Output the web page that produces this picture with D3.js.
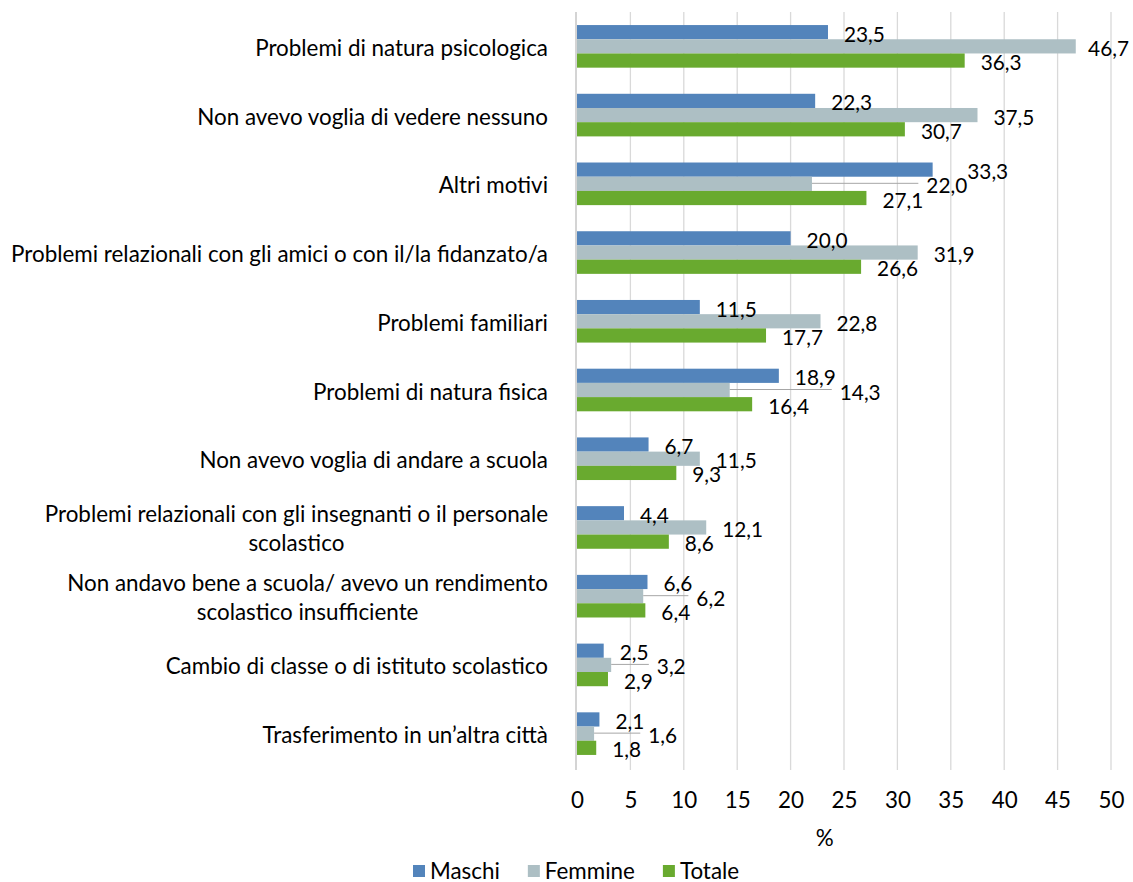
<!DOCTYPE html>
<html>
<head>
<meta charset="utf-8">
<script src="https://cdn.jsdelivr.net/npm/d3@7/dist/d3.min.js"></script>
<style>
  html, body { margin: 0; padding: 0; background: #fff; }
  svg { display: block; font-family: Lato, "Noto Sans", sans-serif; }
</style>
</head>
<body>
<svg id="chart" width="1133" height="882"></svg>
<script>
const categories = [
  "Problemi di natura psicologica",
  "Non avevo voglia di vedere nessuno",
  "Altri motivi",
  "Problemi relazionali con gli amici o con il/la fidanzato/a",
  "Problemi familiari",
  "Problemi di natura fisica",
  "Non avevo voglia di andare a scuola",
  "Problemi relazionali con gli insegnanti o il personale\nscolastico",
  "Non andavo bene a scuola/ avevo un rendimento\nscolastico insufficiente",
  "Cambio di classe o di istituto scolastico",
  "Trasferimento in un’altra città"
];
const maschi  = [23.5, 22.3, 33.3, 20.0, 11.5, 18.9, 6.7, 4.4, 6.6, 2.5, 2.1];
const femmine = [46.7, 37.5, 22.0, 31.9, 22.8, 14.3, 11.5, 12.1, 6.2, 3.2, 1.6];
const totale  = [36.3, 30.7, 27.1, 26.6, 17.7, 16.4, 9.3, 8.6, 6.4, 2.9, 1.8];
const seriesNames = ["Maschi", "Femmine", "Totale"];
const xTicks = [0, 5, 10, 15, 20, 25, 30, 35, 40, 45, 50];
const xTitle = "%";

const colors = { Maschi: "#5384bb", Femmine: "#adbfc4", Totale: "#69aa2f" };
const seriesValues = { Maschi: maschi, Femmine: femmine, Totale: totale };
const FS = 22.4;
const DFS = 20.8;

const svg = d3.select("#chart");
svg.append("rect").attr("width", 1133).attr("height", 882).attr("fill", "#fff");

const x = d3.scaleLinear().domain([0, 50]).range([577, 1111]);
const y = d3.scaleBand().domain(categories).range([12, 768]).paddingInner(0.38).paddingOuter(0.19);
const yInner = d3.scaleBand().domain(seriesNames).range([0, y.bandwidth()]);

const locale = d3.formatLocale({ decimal: ",", thousands: ".", grouping: [3], currency: ["", "€"] });
const fmt = locale.format(".1f");

// gridlines
svg.append("g").selectAll("line").data(xTicks.filter(t => t > 0)).join("line")
  .attr("x1", d => x(d)).attr("x2", d => x(d))
  .attr("y1", 12).attr("y2", 770)
  .attr("stroke", "#d9d9d9").attr("stroke-width", 1.3);

// x axis (tick labels only)
const xAxis = d3.axisBottom(x).tickValues(xTicks).tickSize(0).tickPadding(0).tickFormat(d3.format("d"));
const gx = svg.append("g").attr("transform", "translate(0,790)").call(xAxis);
gx.select(".domain").remove();
gx.selectAll("text").attr("font-size", FS).attr("fill", "#000")
  .attr("font-family", "Lato, 'Noto Sans', sans-serif").attr("dy", "0.35em").attr("y", 10);

svg.append("text").attr("x", x(23.2)).attr("y", 837).attr("text-anchor", "middle")
  .attr("dominant-baseline", "central").attr("font-size", FS).attr("fill", "#000").text(xTitle);

// bars
const gBars = svg.append("g");
categories.forEach((cat, i) => {
  seriesNames.forEach(s => {
    gBars.append("rect")
      .attr("x", x(0))
      .attr("y", y(cat) + yInner(s))
      .attr("width", x(seriesValues[s][i]) - x(0))
      .attr("height", yInner.bandwidth())
      .attr("fill", colors[s]);
  });
});

// zero axis line
svg.append("line").attr("x1", x(0) - 1).attr("x2", x(0) - 1).attr("y1", 12).attr("y2", 770)
  .attr("stroke", "#d4d4d4").attr("stroke-width", 2);

// measuring helper
const measurer = svg.append("text").attr("font-size", FS).attr("visibility", "hidden");
function tw(s, size) {
  measurer.attr("font-size", size || FS).text(s);
  return measurer.node().getComputedTextLength();
}

// category labels
const labelRight = 548;
const gCat = svg.append("g");
categories.forEach(cat => {
  const lines = cat.split("\n");
  const cy = y(cat) + y.bandwidth() / 2;
  const lh = 29;
  const W = d3.max(lines, l => tw(l));
  const right = Math.max(labelRight, 10 + W);
  if (lines.length === 1) {
    gCat.append("text").attr("x", right).attr("y", cy + 1)
      .attr("text-anchor", "end").attr("dominant-baseline", "central")
      .attr("font-size", FS).attr("fill", "#000").text(cat);
  } else {
    const cx = right - W / 2;
    lines.forEach((l, k) => {
      gCat.append("text").attr("x", cx).attr("y", cy + 1 + (k - (lines.length - 1) / 2) * lh)
        .attr("text-anchor", "middle").attr("dominant-baseline", "central")
        .attr("font-size", FS).attr("fill", "#000").text(l);
    });
  }
});

// data labels
const gLab = svg.append("g");
const gap = 16;
const maxRight = 1129;
const dw = s => tw(s, DFS);
categories.forEach((cat, i) => {
  const cyOf = s => y(cat) + yInner(s) + yInner.bandwidth() / 2 + 1;
  const mS = fmt(maschi[i]), fS = fmt(femmine[i]), tS = fmt(totale[i]);
  const mEnd = x(maschi[i]), fEnd = x(femmine[i]), tEnd = x(totale[i]);
  let ml = Math.min(mEnd + gap, maxRight - dw(mS));
  let tl = Math.min(tEnd + gap, maxRight - dw(tS));
  let fl = Math.min(fEnd + gap, maxRight - dw(fS));
  const mR = ml + dw(mS), tR = tl + dw(tS);
  let leader = false;
  if (fl < Math.max(mR, tR) - 8) {
    leader = true;
    if (mEnd > tR) {
      fl = tR + 3;
      ml = Math.max(ml, fl + dw(fS));
    } else {
      fl = Math.max(mR, tR) + 4;
    }
  }
  if (leader) {
    gLab.append("line").attr("x1", fEnd).attr("x2", fl - 8)
      .attr("y1", cyOf("Femmine") - 1.5).attr("y2", cyOf("Femmine") - 1.5)
      .attr("stroke", "#a6a6a6").attr("stroke-width", 1);
  }
  [["Maschi", ml, mS], ["Femmine", fl, fS], ["Totale", tl, tS]].forEach(([s, lx, txt]) => {
    gLab.append("text").attr("x", lx).attr("y", cyOf(s))
      .attr("dominant-baseline", "central").attr("font-size", DFS).attr("fill", "#000").text(txt);
  });
});

// legend
const gLeg = svg.append("g");
let lx = 413;
const ly = 870;
seriesNames.forEach(s => {
  gLeg.append("rect").attr("x", lx).attr("y", ly - 5).attr("width", 12).attr("height", 12).attr("fill", colors[s]);
  gLeg.append("text").attr("x", lx + 17).attr("y", ly).attr("dominant-baseline", "central")
    .attr("font-size", FS).attr("fill", "#000").text(s);
  lx += 17 + tw(s) + 28;
});
measurer.remove();
</script>
</body>
</html>
